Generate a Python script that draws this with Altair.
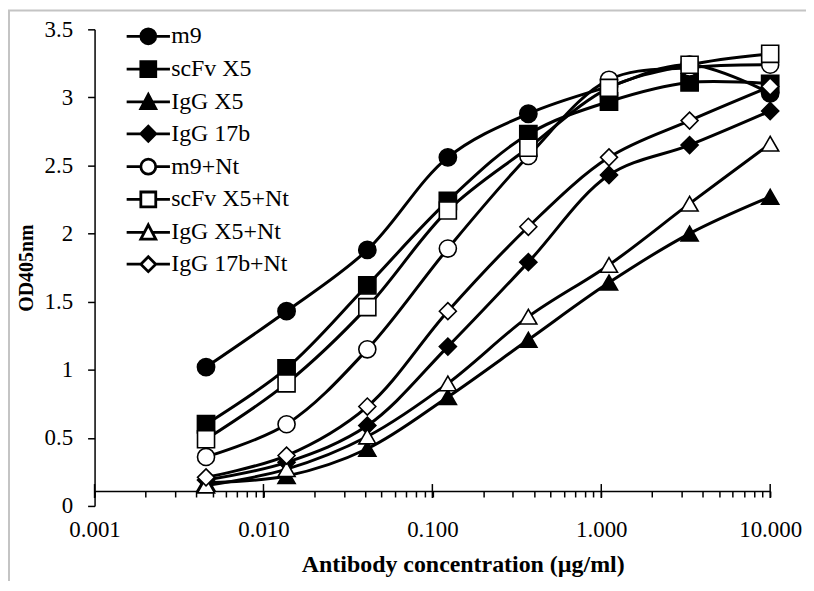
import altair as alt
import pandas as pd

concentrations = [0.00457, 0.0137, 0.0412, 0.1235, 0.370, 1.111, 3.333, 10.0]
series_names = ["m9", "scFv X5", "IgG X5", "IgG 17b",
                "m9+Nt", "scFv X5+Nt", "IgG X5+Nt", "IgG 17b+Nt"]

m9 = [1.02, 1.43, 1.88, 2.56, 2.88, 3.08, 3.24, 3.03]
scfv_x5 = [0.60, 1.01, 1.62, 2.24, 2.73, 2.97, 3.11, 3.10]
igg_x5 = [0.17, 0.22, 0.42, 0.80, 1.22, 1.64, 2.00, 2.27]
igg_17b = [0.19, 0.32, 0.59, 1.17, 1.79, 2.43, 2.65, 2.90]
m9_nt = [0.36, 0.60, 1.15, 1.89, 2.57, 3.13, 3.22, 3.24]
scfv_x5_nt = [0.49, 0.90, 1.46, 2.17, 2.63, 3.07, 3.24, 3.32]
igg_x5_nt = [0.15, 0.27, 0.51, 0.90, 1.39, 1.77, 2.22, 2.66]
igg_17b_nt = [0.21, 0.37, 0.73, 1.43, 2.05, 2.56, 2.83, 3.08]

all_values = [m9, scfv_x5, igg_x5, igg_17b, m9_nt, scfv_x5_nt, igg_x5_nt, igg_17b_nt]

decades = [0.001, 0.01, 0.1, 1.0, 10.0]
x_tick_values = [m * 10.0 ** e for e in range(-3, 1) for m in range(1, 10)] + [10.0]
y_tick_values = [0, 0.5, 1, 1.5, 2, 2.5, 3, 3.5]

plot_shapes = ["circle", "square", "triangle-up", "diamond"] * 2
plot_sizes = [300, 290, 330, 250] * 2
fills = ["black"] * 4 + ["white"] * 4

L = 2.9
legend_paths = [
    f"M-{L},0L-1,0M1,0L{L},0M-1,0A1,1 0 1,0 1,0A1,1 0 1,0 -1,0Z",
    f"M-{L},0L-1,0M1,0L{L},0M-1,-1L1,-1L1,1L-1,1Z",
    f"M-{L},0L-0.53,0M0.53,0L{L},0M0,-1L1,0.9L-1,0.9Z",
    f"M-{L},0L-1,0M1,0L{L},0M-1,0L0,-1L1,0L0,1Z",
] * 2

rows = []
for name, vals in zip(series_names, all_values):
    for c, v in zip(concentrations, vals):
        rows.append({"series": name, "conc": c, "od": v})
df = pd.DataFrame(rows)
df_dec = pd.DataFrame({"conc": decades})

FONT = "Liberation Serif"
W, H = 679, 479
AXIS_UP = 15
is_decade = "abs(log(datum.value)/LN10 - round(log(datum.value)/LN10)) < 1e-6"

x_scale = alt.Scale(type="log", domain=[0.001, 10])
x_enc = alt.X(
    "conc:Q",
    scale=x_scale,
    axis=alt.Axis(
        values=x_tick_values,
        labelExpr=f"({is_decade}) ? format(datum.value, '.3f') : ''",
        tickSize=6,
        title="Antibody concentration (µg/ml)",
        titleFont=FONT, titleFontSize=24, titleFontWeight="bold", titleColor="black",
        titlePadding=11, titleX=370,
        labelFont=FONT, labelFontSize=23, labelColor="black",
        labelPadding=22, labelFlush=False, labelOverlap=False,
        offset=-AXIS_UP, grid=False,
        domainColor="black", domainWidth=1.5, tickColor="black", tickWidth=1.5,
    ),
)
y_enc = alt.Y(
    "od:Q",
    scale=alt.Scale(domain=[0, 3.5], nice=False),
    axis=alt.Axis(
        values=y_tick_values, format="~g",
        title="OD405nm",
        titleFont=FONT, titleFontSize=20, titleFontWeight="bold", titleColor="black",
        titlePadding=8,
        labelFont=FONT, labelFontSize=23, labelColor="black",
        labelPadding=15, tickSize=7, grid=False,
        domainColor="black", domainWidth=1.5, tickColor="black", tickWidth=1.5,
    ),
)

frame = alt.Chart(alt.Data(values=[{}])).mark_rect(
    fill=None, stroke="#c4c4c4", strokeWidth=2
).encode(
    x=alt.value(-86), x2=alt.value(760), y=alt.value(-19), y2=alt.value(600)
)

major_ticks = alt.Chart(df_dec).mark_rule(color="black", strokeWidth=1.5).encode(
    x=alt.X("conc:Q", scale=x_scale),
    y=alt.value(H - AXIS_UP - 7), y2=alt.value(H - AXIS_UP + 7),
)

lines = alt.Chart(df).mark_line(
    interpolate="catmull-rom", color="black", strokeWidth=3
).encode(
    x=x_enc, y=y_enc, detail="series:N", order="conc:Q"
)

points = alt.Chart(df).mark_point(
    filled=True, stroke="black", strokeWidth=1.6, opacity=1
).encode(
    x=x_enc, y=y_enc,
    shape=alt.Shape("series:N", scale=alt.Scale(domain=series_names, range=plot_shapes), legend=None),
    fill=alt.Fill("series:N", scale=alt.Scale(domain=series_names, range=fills), legend=None),
    size=alt.Size("series:N", scale=alt.Scale(domain=series_names, range=plot_sizes), legend=None),
)

leg = alt.Legend(
    title=None, orient="none", legendX=42, legendY=-5, padding=0,
    rowPadding=5, labelOffset=11, symbolSize=225, symbolStrokeWidth=2.8,
    symbolStrokeColor="black", labelFont=FONT, labelFontSize=24,
    labelColor="black", labelLimit=400,
)

legend_layer = alt.Chart(df).transform_filter("false").mark_point(
    filled=True, strokeWidth=2.8, opacity=1
).encode(
    x=x_enc, y=y_enc,
    shape=alt.Shape("series:N", scale=alt.Scale(domain=series_names, range=legend_paths), legend=leg),
    fill=alt.Fill("series:N", scale=alt.Scale(domain=series_names, range=fills), legend=leg),
    stroke=alt.Stroke("series:N", scale=alt.Scale(domain=series_names, range=["black"] * 8), legend=leg),
)

chart = alt.layer(frame, major_ticks, lines, points, legend_layer).resolve_scale(
    shape="independent", fill="independent", size="independent", stroke="independent"
).properties(
    width=W, height=H,
    autosize=alt.AutoSizeParams(type="none"),
    padding={"left": 87, "top": 20, "right": 36, "bottom": 74},
).configure_view(stroke=None)

chart.save("out.html", embed_options={"renderer": "svg", "actions": False})
